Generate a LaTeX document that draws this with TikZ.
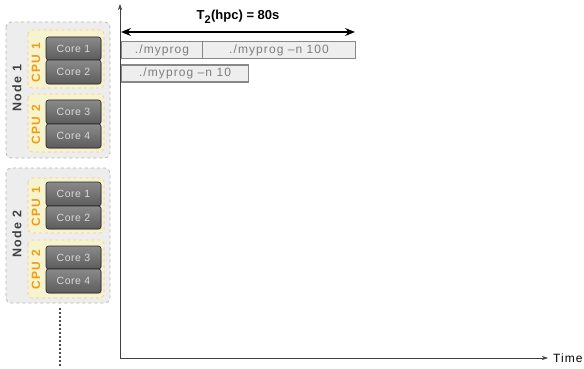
\documentclass[tikz,border=0pt]{standalone}
\usepackage{fontspec}
\setmainfont{Liberation Sans}
\newfontfamily\jobfont[LetterSpace=9]{Liberation Sans}
\newfontfamily\lblfont[LetterSpace=12]{Liberation Sans}
\newfontfamily\corefont[LetterSpace=5]{Liberation Sans}
\usetikzlibrary{arrows.meta,shadows}
\definecolor{nodefill}{HTML}{EDEDED}
\definecolor{nodeline}{HTML}{B5B5B5}
\definecolor{cpufill}{HTML}{F6F3CF}
\definecolor{cpuline}{HTML}{F7C98A}
\definecolor{cpuorange}{HTML}{F39C12}
\definecolor{coretop}{HTML}{8A8A8A}
\definecolor{corebot}{HTML}{5C5C5C}
\definecolor{jobfill}{HTML}{EEEEEE}
\definecolor{jobline}{HTML}{888888}
\definecolor{jobtext}{HTML}{7E7E7E}
\begin{document}
\begin{tikzpicture}[x=1pt,y=-1pt,
  nodebox/.style={draw=nodeline,fill=nodefill,dashed,line width=0.8pt,rounded corners=5pt},
  cpubox/.style={draw=cpuline,fill=cpufill,dashed,line width=0.6pt,rounded corners=4pt},
  corebox/.style={draw=black!85,line width=0.6pt,rounded corners=2.5pt,top color=coretop,bottom color=corebot,
    drop shadow={shadow xshift=0.8pt,shadow yshift=-0.8pt,opacity=0.3}},
  corelbl/.style={text=white!85!black,font=\corefont\fontsize{10.5}{11}\selectfont},
  cpulbl/.style={text=cpuorange,font=\lblfont\bfseries\fontsize{12}{13}\selectfont,rotate=90},
  nodelbl/.style={text=black!75,font=\lblfont\bfseries\fontsize{12.5}{13}\selectfont,rotate=90},
  jobbox/.style={draw=jobline,fill=jobfill,line width=1.1pt},
  joblbl/.style={text=jobtext,font=\jobfont\fontsize{12}{13}\selectfont},
  axis/.style={draw=black!75,line width=0.5pt,-{Stealth[length=6pt,width=4pt]}}]
\useasboundingbox (0,0) rectangle (584,369);

% Node 1
\draw[nodebox] (6,22) rectangle (110,158);
\node[nodelbl] (n1) at (17,88) {Node 1};
\draw[cpubox] (28,30) rectangle (104,88);
\node[cpulbl] (c11) at (36,63) {CPU 1};
\draw[cpubox] (28,94) rectangle (104,152);
\node[cpulbl] (c12) at (36,125) {CPU 2};
\draw[corebox] (46,37) rectangle (101,60);
\node[corelbl] (k1a) at (73.5,48.5) {Core 1};
\draw[corebox] (46,60) rectangle (101,84);
\node[corelbl] (k1b) at (73.5,72) {Core 2};
\draw[corebox] (46,100) rectangle (101,124);
\node[corelbl] (k1c) at (73.5,112) {Core 3};
\draw[corebox] (46,124) rectangle (101,148);
\node[corelbl] (k1d) at (73.5,136) {Core 4};

% Node 2
\draw[nodebox] (6,168) rectangle (110,303);
\node[nodelbl] (n2) at (17,234) {Node 2};
\draw[cpubox] (28,178) rectangle (104,233);
\node[cpulbl] (c21) at (36,207) {CPU 1};
\draw[cpubox] (28,240) rectangle (104,298);
\node[cpulbl] (c22) at (36,270) {CPU 2};
\draw[corebox] (46,182) rectangle (101,206);
\node[corelbl] (k2a) at (73.5,194) {Core 1};
\draw[corebox] (46,206) rectangle (101,229);
\node[corelbl] (k2b) at (73.5,217.5) {Core 2};
\draw[corebox] (46,246) rectangle (101,269);
\node[corelbl] (k2c) at (73.5,257.5) {Core 3};
\draw[corebox] (46,269) rectangle (101,293);
\node[corelbl] (k2d) at (73.5,281) {Core 4};

% dots
\coordinate (d1) at (60,308);
\coordinate (d2) at (60,366);
\draw[black!70,line width=1.4pt,dash pattern=on 1.6pt off 2.4pt] (d1) -- (d2);

% axes
\coordinate (o) at (120,358);
\coordinate (ytop) at (120,4);
\coordinate (xend) at (548,358);
\draw[axis] (o) -- (ytop);
\draw[axis] (o) -- (xend);
\node[anchor=west,font=\jobfont\fontsize{12}{13}\selectfont,inner sep=0pt] (time) at (553,358) {Time};

% jobs
\node[jobbox,minimum width=81pt,minimum height=17pt,inner sep=0pt,anchor=north west] (j1) at (121,41) {};
\node[joblbl] at (j1) {./myprog};
\node[jobbox,minimum width=153pt,minimum height=17pt,inner sep=0pt,anchor=north west] (j2) at (202,41) {};
\node[joblbl] at (j2) {./myprog –n 100};
\node[jobbox,minimum width=127pt,minimum height=17pt,inner sep=0pt,anchor=north west] (j3) at (121,64.5) {};
\node[joblbl] at (j3) {./myprog –n 10};

% T2 arrow
\coordinate (a1) at (121,32);
\coordinate (a2) at (355,32);
\draw[line width=1.4pt,{Stealth[length=10pt,width=8pt,inset=3.5pt]}-{Stealth[length=10pt,width=8pt,inset=3.5pt]}] (a1) -- (a2);
\node[font=\bfseries\fontsize{13}{14}\selectfont] (t2) at (238,17) {T\textsubscript{\fontsize{11}{12}\selectfont 2}(hpc) = 80s};
\end{tikzpicture}
\end{document}
